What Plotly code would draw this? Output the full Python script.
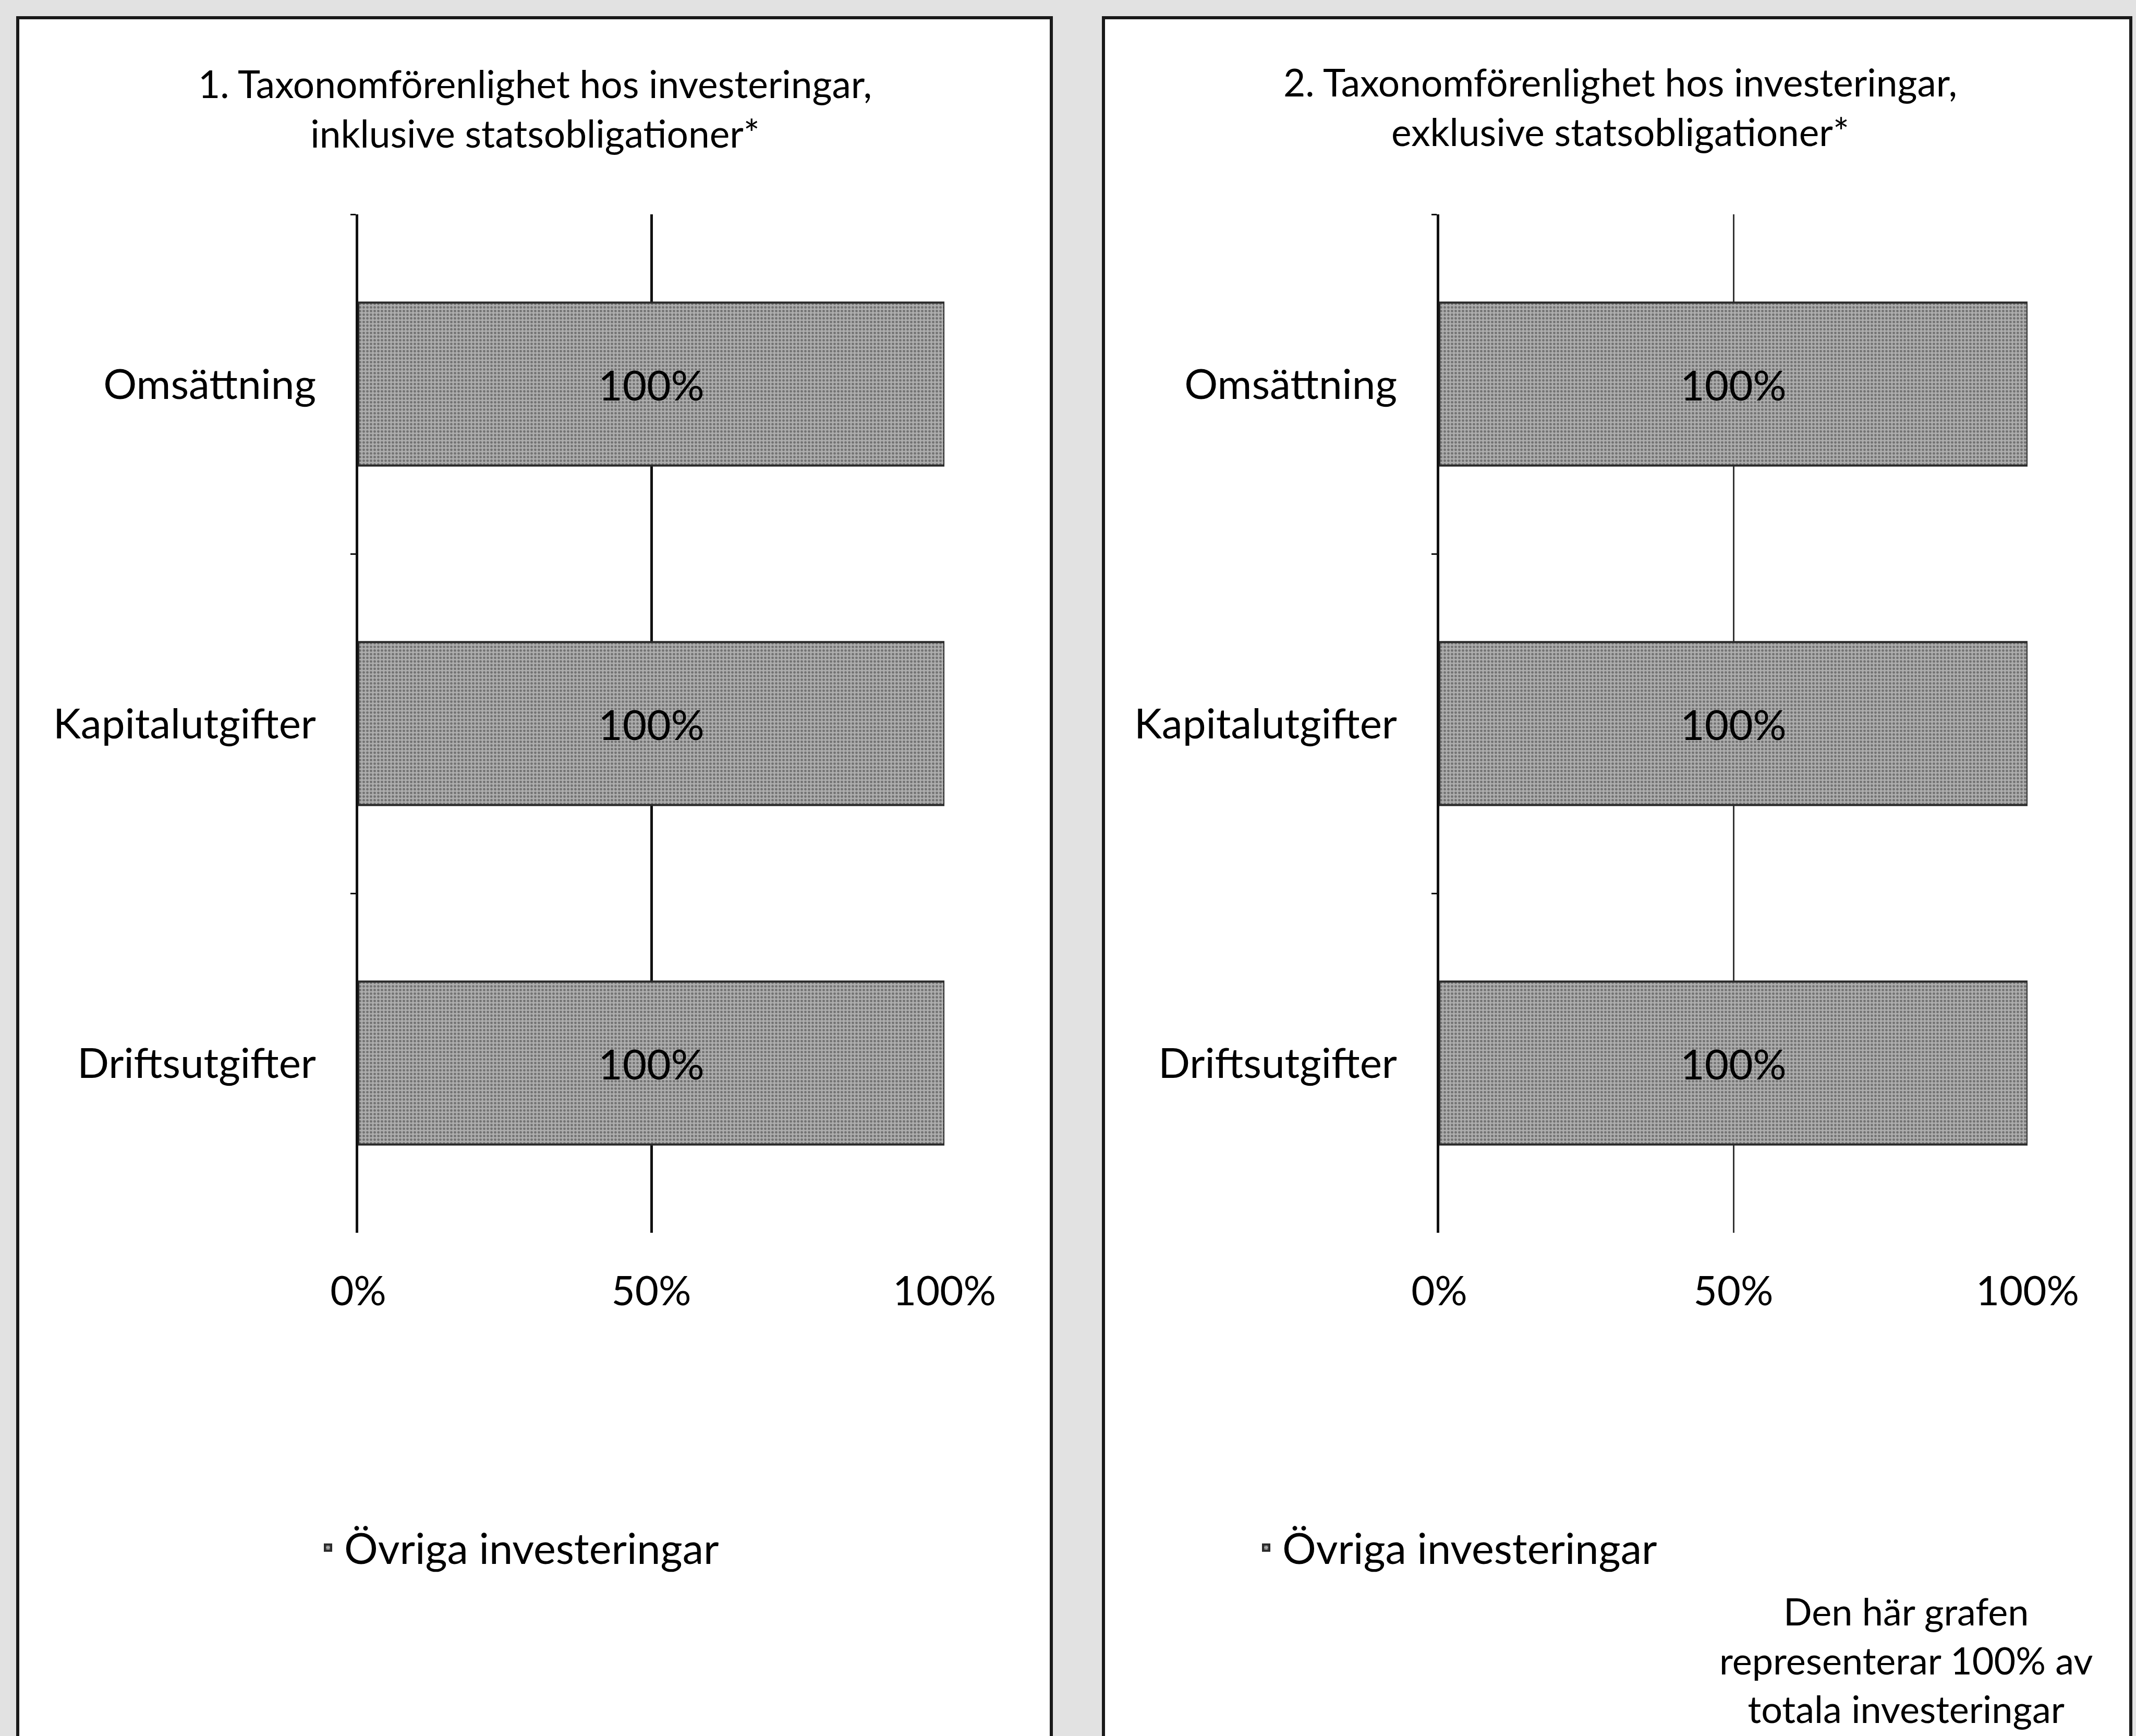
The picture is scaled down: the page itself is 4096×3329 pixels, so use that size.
import plotly.graph_objects as go

categories = ["Omsättning", "Kapitalutgifter", "Driftsutgifter"]
values_incl = [100, 100, 100]
values_excl = [100, 100, 100]
series_name = "Övriga investeringar"
tick_vals = [0, 50, 100]
tick_text = ["0%", "50%", "100%"]
title_left = "1. Taxonomförenlighet hos investeringar,<br>inklusive statsobligationer*"
title_right = "2. Taxonomförenlighet hos investeringar,<br>exklusive statsobligationer*"
note_text = "Den här grafen<br>representerar 100% av<br>totala investeringar"

W, H = 4096, 3329
FONT = "Lato"

def px(x):
    return x / W

def py(y):
    return 1 - y / H

pattern = dict(shape=".", bgcolor="#adadad", fgcolor="#3a3a3a", size=7, solidity=0.4)

fig = go.Figure()
fig.add_trace(go.Bar(
    y=categories, x=values_incl, orientation="h", name=series_name,
    xaxis="x", yaxis="y", legend="legend",
    marker=dict(color="#a0a0a0", pattern=pattern, line=dict(color="#2a2a2a", width=4)),
    text=[f"{v}%" for v in values_incl], textposition="inside", insidetextanchor="middle",
    textfont=dict(family=FONT, size=80, color="black"),
))
fig.add_trace(go.Bar(
    y=categories, x=values_excl, orientation="h", name=series_name,
    xaxis="x2", yaxis="y2", legend="legend2",
    marker=dict(color="#a0a0a0", pattern=pattern, line=dict(color="#2a2a2a", width=4)),
    text=[f"{v}%" for v in values_excl], textposition="inside", insidetextanchor="middle",
    textfont=dict(family=FONT, size=80, color="black"),
))

ydom = [py(2364), py(411)]
xcommon = dict(range=[0, 100], tickvals=tick_vals, ticktext=tick_text, showgrid=True,
               gridcolor="#111", gridwidth=5, zeroline=False, showline=False, ticks="",
               ticklabelstandoff=60, tickfont=dict(family=FONT, size=78, color="black"),
               fixedrange=True, automargin=False)
ycommon = dict(autorange="reversed", showline=True, linecolor="#111", linewidth=5,
               ticks="outside", tickson="boundaries", ticklen=10, tickwidth=3, tickcolor="#111",
               ticklabelstandoff=60, showgrid=False, zeroline=False, automargin=False,
               tickfont=dict(family=FONT, size=80, color="black"), domain=ydom)

panel_top = py(34)
shapes = [
    dict(type="rect", xref="paper", yref="paper", x0=px(34), x1=px(2016), y0=-0.02, y1=panel_top,
         fillcolor="white", line=dict(color="#1a1a1a", width=6), layer="below"),
    dict(type="rect", xref="paper", yref="paper", x0=px(2116), x1=px(4086), y0=-0.02, y1=panel_top,
         fillcolor="white", line=dict(color="#1a1a1a", width=6), layer="below"),
]

annotations = [
    dict(text=title_left, x=px(1026), y=py(207), xref="paper", yref="paper", showarrow=False,
         xanchor="center", yanchor="middle", align="center", font=dict(family=FONT, size=73, color="black")),
    dict(text=title_right, x=px(3107), y=py(205), xref="paper", yref="paper", showarrow=False,
         xanchor="center", yanchor="middle", align="center", font=dict(family=FONT, size=73, color="black")),
    dict(text=note_text, x=px(3655), y=py(3182), xref="paper", yref="paper", showarrow=False,
         xanchor="center", yanchor="middle", align="center", font=dict(family=FONT, size=72, color="black")),
]

fig.update_layout(
    width=W, height=H, margin=dict(l=0, r=0, t=0, b=0, autoexpand=False),
    paper_bgcolor="#e2e2e2", plot_bgcolor="rgba(0,0,0,0)",
    bargap=0.52, showlegend=True,
    xaxis=dict(domain=[px(687), px(1811)], anchor="y", **xcommon),
    yaxis=dict(anchor="x", **ycommon),
    xaxis2=dict(domain=[px(2760), px(3888)], anchor="y2", **xcommon),
    yaxis2=dict(anchor="x2", **ycommon),
    legend=dict(x=px(598), y=py(2968), xanchor="left", yanchor="middle", bgcolor="rgba(0,0,0,0)",
                itemwidth=52, font=dict(family=FONT, size=81, color="black")),
    legend2=dict(x=px(2397), y=py(2968), xanchor="left", yanchor="middle", bgcolor="rgba(0,0,0,0)",
                 itemwidth=52, font=dict(family=FONT, size=81, color="black")),
    shapes=shapes, annotations=annotations,
)
fig.update_xaxes(gridcolor="#333", gridwidth=3, selector=dict(anchor="y2"))

fig.write_html("out.html", config={"displayModeBar": False},
               post_script="document.body.style.margin='0';")
